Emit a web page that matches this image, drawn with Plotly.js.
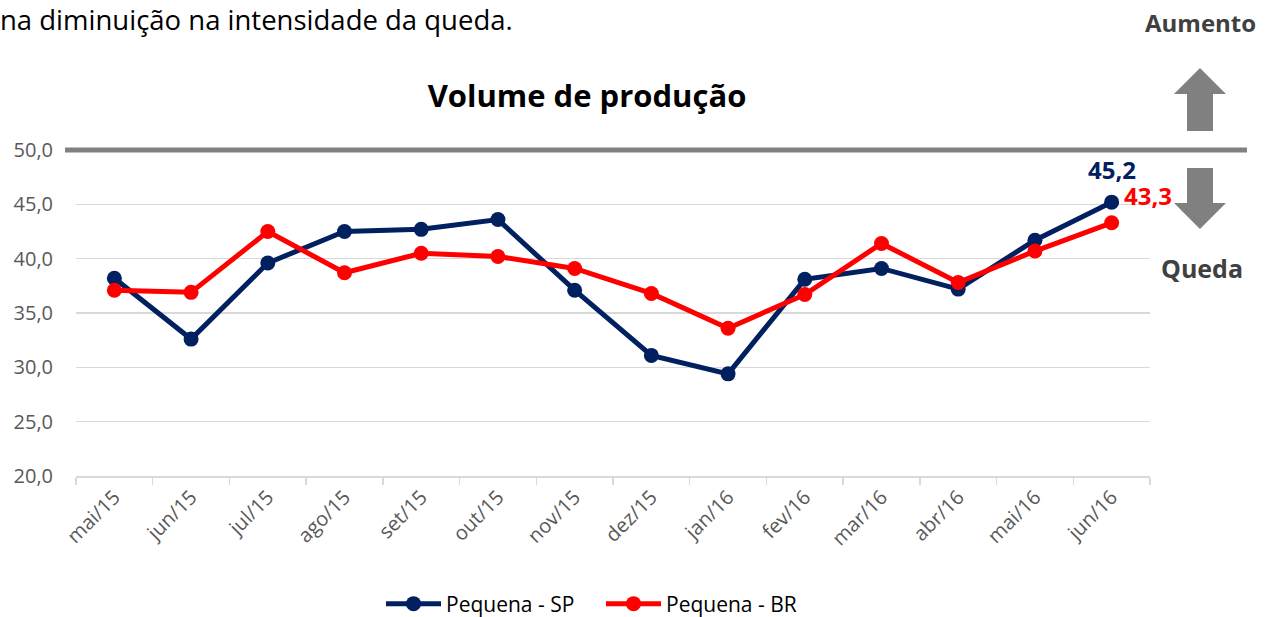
<!DOCTYPE html>
<html>
<head>
<meta charset="utf-8">
<script src="https://cdn.plot.ly/plotly-3.0.1.min.js"></script>
<style>html,body{margin:0;padding:0;background:#fff;}#chart{width:1273px;height:617px;}</style>
</head>
<body>
<div id="chart"></div>
<script>
const categories = ['mai/15','jun/15','jul/15','ago/15','set/15','out/15','nov/15','dez/15','jan/16','fev/16','mar/16','abr/16','mai/16','jun/16'];
const pequenaSP = [38.2, 32.6, 39.6, 42.5, 42.7, 43.6, 37.1, 31.1, 29.4, 38.1, 39.1, 37.2, 41.7, 45.2];
const pequenaBR = [37.1, 36.9, 42.5, 38.7, 40.5, 40.2, 39.1, 36.8, 33.6, 36.7, 41.4, 37.8, 40.7, 43.3];
const yTicks = [20, 25, 30, 35, 40, 45, 50];

const FONT = '"Open Sans", "DejaVu Sans", sans-serif';
const NAVY = '#002060';
const RED = '#ff0000';
const GREY = '#808080';

// plot area in pixels
const L = 76, R = 1150, T = 150, B = 476;
const px = x => (x - L) / (R - L);
const py = y => (B - y) / (B - T);

function arrowPath(cx, yTip, yNeck, yEnd) {
  const hw = 26, sw = 13;
  const pts = [
    [cx, yTip], [cx + hw, yNeck], [cx + sw, yNeck], [cx + sw, yEnd],
    [cx - sw, yEnd], [cx - sw, yNeck], [cx - hw, yNeck]
  ];
  return 'M ' + pts.map(p => px(p[0]).toFixed(5) + ',' + py(p[1]).toFixed(5)).join(' L ') + ' Z';
}

const traces = [
  {
    x: categories, y: pequenaSP, name: 'Pequena - SP', type: 'scatter', mode: 'lines+markers',
    line: {color: NAVY, width: 5}, marker: {color: NAVY, size: 15}
  },
  {
    x: categories, y: pequenaBR, name: 'Pequena - BR', type: 'scatter', mode: 'lines+markers',
    line: {color: RED, width: 5}, marker: {color: RED, size: 15}
  }
];

const lastIdx = categories.length - 1;

const layout = {
  width: 1273, height: 617,
  margin: {l: L, r: 1273 - R, t: T, b: 617 - B, pad: 0, autoexpand: false},
  paper_bgcolor: '#fff', plot_bgcolor: '#fff',
  separators: ',.',
  font: {family: FONT, color: '#595959', size: 20},
  showlegend: true,
  legend: {
    orientation: 'h', x: px(381), xanchor: 'left', y: py(604), yanchor: 'middle',
    font: {family: FONT, size: 21, color: '#000'}, traceorder: 'normal', itemwidth: 55,
    entrywidth: 150, entrywidthmode: 'pixels'
  },
  title: {
    text: '<b>Volume de produção</b>',
    font: {family: FONT, size: 31, color: '#000'},
    x: 587 / 1273, xanchor: 'center', xref: 'container',
    y: 1 - 96 / 617, yanchor: 'middle', yref: 'container'
  },
  xaxis: {
    type: 'category', categoryorder: 'array', categoryarray: categories,
    range: [-0.5, categories.length - 0.5], automargin: false,
    showgrid: false, showline: true, linecolor: '#d9d9d9', linewidth: 1.5,
    ticks: 'outside', ticklen: 7, tickcolor: '#d9d9d9', tickwidth: 1.5, tickson: 'boundaries',
    tickangle: -45, tickfont: {family: FONT, size: 20, color: '#595959'},
    zeroline: false, fixedrange: true
  },
  yaxis: {
    range: [20, 50], tickvals: yTicks, tickformat: '.1f', automargin: false,
    showgrid: true, gridcolor: '#d9d9d9', gridwidth: 1.5,
    showline: false, zeroline: false, ticks: '',
    tickfont: {family: FONT, size: 20, color: '#595959'},
    ticklabelstandoff: 22, fixedrange: true
  },
  shapes: [
    {type: 'line', xref: 'paper', yref: 'paper', x0: px(65), x1: px(1247), y0: py(150), y1: py(150),
     line: {color: GREY, width: 5}},
    {type: 'path', xref: 'paper', yref: 'paper', path: arrowPath(1200, 68, 94, 131),
     fillcolor: GREY, line: {width: 0}},
    {type: 'path', xref: 'paper', yref: 'paper', path: arrowPath(1200, 229, 203, 168),
     fillcolor: GREY, line: {width: 0}}
  ],
  annotations: [
    {text: 'na diminuição na intensidade da queda.', xref: 'paper', yref: 'paper',
     x: px(-2), y: py(19), xanchor: 'left', yanchor: 'middle', showarrow: false,
     font: {family: FONT, size: 27.5, color: '#000'}},
    {text: '<b>Aumento</b>', xref: 'paper', yref: 'paper', x: px(1200), y: py(22),
     xanchor: 'center', yanchor: 'middle', showarrow: false,
     font: {family: FONT, size: 24, color: '#404040'}},
    {text: '<b>Queda</b>', xref: 'paper', yref: 'paper', x: px(1202), y: py(268),
     xanchor: 'center', yanchor: 'middle', showarrow: false,
     font: {family: FONT, size: 25, color: '#404040'}},
    {text: '<b>' + pequenaSP[lastIdx].toFixed(1).replace('.', ',') + '</b>', x: categories[lastIdx], y: pequenaSP[lastIdx],
     xref: 'x', yref: 'y', xanchor: 'center', yanchor: 'middle', yshift: 33, showarrow: false,
     font: {family: FONT, size: 24, color: NAVY}},
    {text: '<b>' + pequenaBR[lastIdx].toFixed(1).replace('.', ',') + '</b>', x: categories[lastIdx], y: pequenaBR[lastIdx],
     xref: 'x', yref: 'y', xanchor: 'center', yanchor: 'middle', xshift: 36, yshift: 27, showarrow: false,
     font: {family: FONT, size: 24, color: RED}}
  ]
};

Plotly.newPlot('chart', traces, layout, {displayModeBar: false, staticPlot: true});
</script>
</body>
</html>
